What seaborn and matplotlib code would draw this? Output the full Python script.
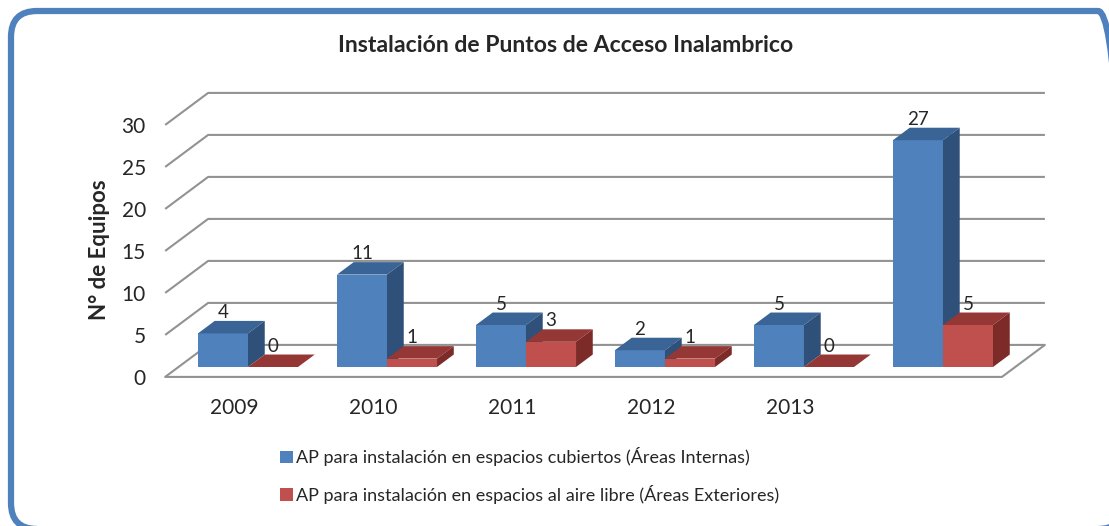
import pandas as pd
import seaborn as sns
import matplotlib.pyplot as plt
from matplotlib.patches import Polygon, FancyBboxPatch, Patch

# Chart data
categories = ['2009', '2010', '2011', '2012', '2013', ' ']
tick_labels = ['2009', '2010', '2011', '2012', '2013', '']
internas = [4, 11, 5, 2, 5, 27]
exteriores = [0, 1, 3, 1, 0, 5]
series = ['AP para instalación en espacios cubiertos (Áreas Internas)',
          'AP para instalación en espacios al aire libre (Áreas Exteriores)']
y_ticks = [0, 5, 10, 15, 20, 25, 30]

df = pd.DataFrame({
    'cat': categories * 2,
    'val': internas + exteriores,
    'serie': [series[0]] * 6 + [series[1]] * 6,
})

sns.set_style('white')
plt.rcParams['font.family'] = ['Lato', 'DejaVu Sans']

blue, blue_top, blue_side = '#4F81BD', '#3B6496', '#2F5079'
red, red_top, red_side = '#C0504D', '#953735', '#7D2B29'
grid_c = '#929292'

W, H = 1109, 526
fig = plt.figure(figsize=(W / 100, H / 100), dpi=100)
# axes placed so data units map to the picture's pixels
ax = fig.add_axes([150 / W, 1 - 390 / H, 910 / W, 310 / H])

sns.barplot(data=df, x='cat', y='val', hue='serie', palette=[blue, red],
            width=0.72, saturation=1, legend=False, ax=ax)

# pseudo-3D depth vector (one unit of depth, in data units)
ddx, ddy = 0.309, 3.81
t0, t1 = -0.31, 0.69   # front floor / back wall depth
tb = 0.39              # bar depth
L, R = -0.5, 5.52

ax.set_xlim(-0.705, 5.842)
ax.set_ylim(-2.738, 34.167)

# walls gridlines
for v in y_ticks:
    xs = [L + t0 * ddx, L + t1 * ddx, R + t1 * ddx]
    ys = [v + t0 * ddy, v + t1 * ddy, v + t1 * ddy]
    ax.plot(xs, ys, color=grid_c, lw=1.5, zorder=1, solid_capstyle='butt')
# floor front and right edges
ax.plot([L + t0 * ddx, R + t0 * ddx, R + t1 * ddx],
        [t0 * ddy, t0 * ddy, t1 * ddy], color=grid_c, lw=1.5, zorder=1)

bdx, bdy = tb * ddx, tb * ddy
n = len(categories)
for k, p in enumerate(ax.patches):
    is_red = k >= n
    z = 4 if is_red else 3
    p.set_zorder(z)
    p.set_edgecolor('none')
    x0 = p.get_x()
    x1 = x0 + p.get_width()
    h = p.get_height()
    top = Polygon([(x0, h), (x1, h), (x1 + bdx, h + bdy), (x0 + bdx, h + bdy)],
                  closed=True, facecolor=red_top if is_red else blue_top,
                  edgecolor='none', zorder=z)
    side = Polygon([(x1, 0), (x1, h), (x1 + bdx, h + bdy), (x1 + bdx, bdy)],
                   closed=True, facecolor=red_side if is_red else blue_side,
                   edgecolor='none', zorder=z)
    ax.add_patch(top)
    ax.add_patch(side)
    ax.annotate(f'{int(h)}', ((x0 + x1) / 2, h + bdy), xytext=(0, 0),
                textcoords='offset points', ha='center', va='bottom',
                fontsize=13.5, zorder=6)

ax.set_yticks([v + t0 * ddy for v in y_ticks], [str(v) for v in y_ticks])
ax.set_xticks([i + t0 * ddx for i in range(n)], tick_labels)
ax.tick_params(axis='y', length=0, pad=3, labelsize=15)
ax.tick_params(axis='x', length=0, pad=6, labelsize=15)
ax.set_xlabel('')
ax.set_ylabel('')
sns.despine(ax=ax, left=True, bottom=True)

fig.text(566 / W, 1 - 45 / H, 'Instalación de Puntos de Acceso Inalambrico',
         ha='center', va='center', fontsize=16.6, fontweight='bold')
fig.text(100 / W, 1 - 250 / H, 'N° de Equipos', rotation=90,
         ha='center', va='center', fontsize=16, fontweight='bold')

handles = [Patch(facecolor=blue, edgecolor='none'),
           Patch(facecolor=red, edgecolor='none')]
fig.legend(handles, series, loc='upper left',
           bbox_to_anchor=(264 / W, 1 - 431 / H), frameon=False,
           handlelength=0.7, handleheight=0.7, handletextpad=0.2,
           labelspacing=1.02, fontsize=13)

# rounded blue frame, drawn in pixel units (dpi 100); right side runs off the image
frame = FancyBboxPatch((0.11, -0.03), 11.13, 5.18,
                       boxstyle='round,pad=0,rounding_size=0.26',
                       transform=fig.dpi_scale_trans, facecolor='none',
                       edgecolor=blue, lw=4.5, zorder=10)
fig.patches.append(frame)

fig.savefig('out.png', dpi=100)
